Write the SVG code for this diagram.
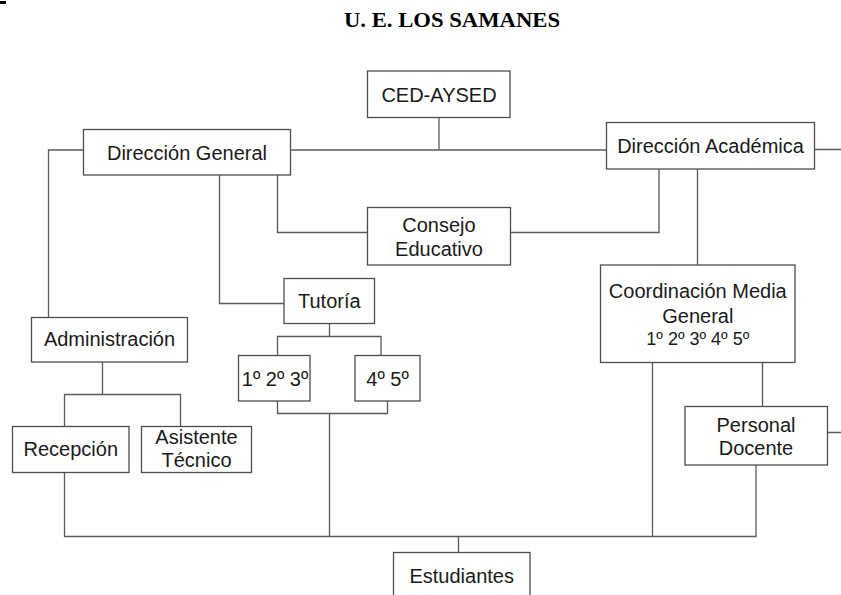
<svg xmlns="http://www.w3.org/2000/svg" width="841" height="595" viewBox="0 0 841 595">
<style>
.box{fill:#ffffff;stroke:#4d4d4d;stroke-width:1.3}
.ln{fill:none;stroke:#5a5a5a;stroke-width:1.3}
.t{font-family:"Liberation Sans",Arial,sans-serif;font-size:20px;fill:#1a1a1a;text-anchor:middle}
.s{font-size:18px}
.title{font-family:"Liberation Serif","Times New Roman",serif;font-weight:bold;font-size:22px;fill:#000;text-anchor:middle}
</style>
<rect x="0" y="1" width="6" height="3" fill="#000"/>
<text class="title" x="452" y="27" textLength="216" lengthAdjust="spacingAndGlyphs">U. E. LOS SAMANES</text>
<g id="connectors">
<path class="ln" d="M439 117.5V150M290.5 150H606.5M814.5 149.5H841"/>
<path class="ln" d="M83.5 150H48.5V317.5"/>
<path class="ln" d="M219.5 175V303.5H284"/>
<path class="ln" d="M277.5 175V232.5H367.5"/>
<path class="ln" d="M510.5 232.5H659V169"/>
<path class="ln" d="M697.5 169V265"/>
<path class="ln" d="M329.5 323.5V336.5M277.5 355.5V336.5H381V355.5"/>
<path class="ln" d="M277.5 401V413.5H387.5V401M329.5 413.5V536.5"/>
<path class="ln" d="M102.5 362V394.5M64.5 426.5V394.5H180.5V426.5"/>
<path class="ln" d="M64.5 472.5V536.5H756V465"/>
<path class="ln" d="M652.5 362.5V536.5"/>
<path class="ln" d="M762.5 362.5V406.5M827.5 432.5H841"/>
<path class="ln" d="M458.5 536.5V552.5"/>
</g>
<g id="ced-aysed"><rect class="box" x="367.5" y="71" width="142.5" height="46.5"/><text class="t" x="439" y="101.5">CED-AYSED</text></g>
<g id="direccion-general"><rect class="box" x="83.5" y="129.5" width="207" height="45.5"/><text class="t" x="187" y="160">Dirección General</text></g>
<g id="direccion-academica"><rect class="box" x="606.5" y="122.5" width="208" height="46.5"/><text class="t" x="710.5" y="153.3">Dirección Académica</text></g>
<g id="consejo-educativo"><rect class="box" x="367.5" y="207.5" width="143" height="57.5"/><text class="t" x="439" y="231.5">Consejo</text><text class="t" x="439" y="255.5">Educativo</text></g>
<g id="tutoria"><rect class="box" x="284" y="278.5" width="90.5" height="45"/><text class="t" x="329.3" y="308.3">Tutoría</text></g>
<g id="grados-123"><rect class="box" x="238.5" y="355.5" width="71.5" height="45.5"/><text class="t" x="275" y="386">1º 2º 3º</text></g>
<g id="grados-45"><rect class="box" x="355" y="355.5" width="65" height="45.5"/><text class="t" x="387.5" y="386">4º 5º</text></g>
<g id="administracion"><rect class="box" x="31.5" y="317.5" width="156" height="44.5"/><text class="t" x="109.5" y="345.7">Administración</text></g>
<g id="recepcion"><rect class="box" x="12.5" y="426.5" width="116.5" height="46"/><text class="t" x="70.8" y="455.7">Recepción</text></g>
<g id="asistente-tecnico"><rect class="box" x="141.5" y="426.5" width="110" height="46"/><text class="t" x="196.5" y="444">Asistente</text><text class="t" x="196.5" y="467.3">Técnico</text></g>
<g id="coordinacion-media-general"><rect class="box" x="600.5" y="265" width="194.5" height="97.5"/><text class="t" x="697.8" y="298">Coordinación Media</text><text class="t" x="697.8" y="322.5">General</text><text class="t s" x="697.8" y="344.5">1º 2º 3º 4º 5º</text></g>
<g id="personal-docente"><rect class="box" x="685" y="406.5" width="142.5" height="58.5"/><text class="t" x="756" y="431.5">Personal</text><text class="t" x="756" y="455">Docente</text></g>
<g id="estudiantes"><rect class="box" x="393.5" y="552.5" width="136.5" height="50"/><text class="t" x="461.7" y="582.7">Estudiantes</text></g>
</svg>
